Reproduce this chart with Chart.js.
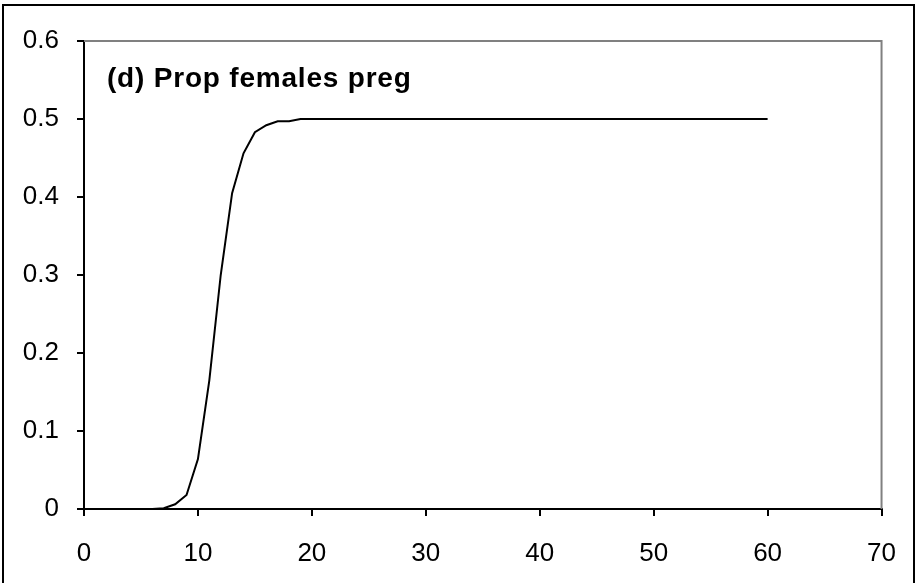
<!DOCTYPE html>
<html>
<head>
<meta charset="utf-8">
<script src="https://cdn.jsdelivr.net/npm/chart.js@4"></script>
<style>
    body { margin: 0; background: #fff; }
    #wrap { position: relative; width: 918px; height: 583px; overflow: hidden; }
    #frame { position: absolute; left: 2px; top: 4px; width: 909px; height: 600px; border: 2px solid #000; }
    canvas { position: absolute; left: 0; top: 0; }
</style>
</head>
<body>
<div id="wrap">
    <canvas id="chart" width="918" height="583"></canvas>
    <div id="frame"></div>
</div>
<script>
// Data
const days = [0, 1, 2, 3, 4, 5, 6, 7, 8, 9, 10, 11, 12, 13, 14, 15, 16, 17, 18, 19, 20,
    21, 22, 23, 24, 25, 26, 27, 28, 29, 30, 31, 32, 33, 34, 35, 36, 37, 38, 39, 40,
    41, 42, 43, 44, 45, 46, 47, 48, 49, 50, 51, 52, 53, 54, 55, 56, 57, 58, 59, 60];
const propPreg = [0, 0, 0, 0, 0, 0, 0, 0.001, 0.006, 0.018, 0.064, 0.165, 0.30, 0.405, 0.456, 0.483, 0.492, 0.497, 0.497, 0.5, 0.5,
    0.5, 0.5, 0.5, 0.5, 0.5, 0.5, 0.5, 0.5, 0.5, 0.5, 0.5, 0.5, 0.5, 0.5, 0.5, 0.5, 0.5, 0.5, 0.5, 0.5,
    0.5, 0.5, 0.5, 0.5, 0.5, 0.5, 0.5, 0.5, 0.5, 0.5, 0.5, 0.5, 0.5, 0.5, 0.5, 0.5, 0.5, 0.5, 0.5, 0.5];
const panelTitle = '(d) Prop females preg';

const fontFamily = '"Liberation Sans", Arial, sans-serif';

// gray top/right edges of the plot area plus the panel label
const framePlugin = {
    id: 'frame',
    afterDraw(chart) {
        const { ctx, chartArea: a } = chart;
        ctx.save();
        ctx.strokeStyle = '#808080';
        ctx.lineWidth = 2;
        ctx.beginPath();
        ctx.moveTo(a.left, a.top);
        ctx.lineTo(a.right, a.top);
        ctx.lineTo(a.right, a.bottom);
        ctx.stroke();
        ctx.fillStyle = '#000';
        ctx.font = 'bold 28px ' + fontFamily;
        ctx.letterSpacing = '0.8px';
        ctx.textBaseline = 'middle';
        ctx.fillText(panelTitle, a.left + 23, a.top + 38);
        ctx.restore();
    }
};

new Chart(document.getElementById('chart'), {
    type: 'line',
    data: {
        datasets: [{
            data: days.map((d, i) => ({ x: d, y: propPreg[i] })),
            borderColor: '#000',
            borderWidth: 2,
            pointRadius: 0,
            tension: 0,
            fill: false
        }]
    },
    options: {
        responsive: false,
        animation: false,
        layout: { padding: { left: 0, top: 41, right: 36, bottom: 0 } },
        plugins: { legend: { display: false }, tooltip: { enabled: false } },
        scales: {
            x: {
                type: 'linear',
                min: 0, max: 70,
                afterFit(s) { s.height = 74; },
                ticks: { stepSize: 10, color: '#000', padding: 22, maxRotation: 0,
                    font: { family: fontFamily, size: 26 } },
                grid: { drawOnChartArea: false, drawTicks: true, tickLength: 7, color: '#000', lineWidth: 2 },
                border: { color: '#000', width: 2 }
            },
            y: {
                min: 0, max: 0.6,
                afterFit(s) { s.width = 84; },
                ticks: { stepSize: 0.1, color: '#000', padding: 18,
                    font: { family: fontFamily, size: 26 },
                    callback: v => String(Math.round(v * 10) / 10) },
                grid: { drawOnChartArea: false, drawTicks: true, tickLength: 7, color: '#000', lineWidth: 2 },
                border: { color: '#000', width: 2 }
            }
        }
    },
    plugins: [framePlugin]
});
</script>
</body>
</html>
